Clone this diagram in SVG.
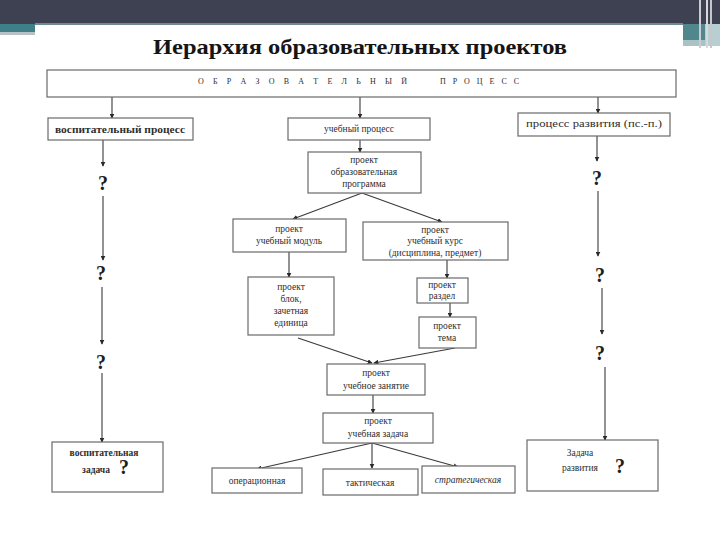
<svg xmlns="http://www.w3.org/2000/svg" width="720" height="540" viewBox="0 0 720 540">
  <style>
    .box { fill: #ffffff; stroke: #6a6a6a; stroke-width: 1.2; }
    .t { font-family: "Liberation Serif", "DejaVu Serif", serif; font-size: 9.5px; fill: #2e2e2e; text-anchor: middle; }
    .s { font-family: "Liberation Serif", "DejaVu Serif", serif; font-size: 8px; fill: #2e2e2e; text-anchor: start; }
    .q { font-family: "Liberation Serif", "DejaVu Serif", serif; font-size: 20px; font-weight: bold; fill: #1e1e1e; text-anchor: middle; }
    .ln { stroke: #3a3a3a; stroke-width: 1.1; fill: none; marker-end: url(#ah); }
  </style>
  <defs>
    <marker id="ah" viewBox="0 0 8 8" refX="7" refY="4" markerWidth="5" markerHeight="5" orient="auto" markerUnits="userSpaceOnUse">
      <path d="M0,0 L8,4 L0,8 Z" fill="#2a2a2a"/>
    </marker>
  </defs>

  <!-- slide frame -->
  <rect x="0" y="0" width="720" height="540" fill="#ffffff"/>
  <rect x="0" y="0" width="720" height="24" fill="#3e4152"/>
  <rect x="0" y="24" width="35" height="8" fill="#3f7f87"/>
  <rect x="0" y="32" width="35" height="3" fill="#b9c2c6"/>
  <rect x="35" y="23" width="648" height="2" fill="#6f8a92"/>
  <rect x="683" y="24" width="22" height="16" fill="#4f878d"/>
  <rect x="683" y="40" width="22" height="6" fill="#a9c2c4"/>
  <rect x="705" y="24" width="15" height="22" fill="#b7cfd1"/>
  <rect x="699" y="0" width="2" height="48" fill="#c9ccd2"/>
  <rect x="706" y="0" width="2" height="48" fill="#d6d8dc"/>
  <rect x="710" y="0" width="2" height="48" fill="#c4c7cc"/>

  <!-- title -->
  <text x="360" y="54" font-family="'Liberation Serif', 'DejaVu Serif', serif" font-size="21" font-weight="bold" fill="#151515" text-anchor="middle" textLength="414" lengthAdjust="spacingAndGlyphs">Иерархия образовательных проектов</text>

  <!-- connectors -->
  <g id="connectors">
    <line class="ln" x1="112" y1="97" x2="112" y2="118"/>
    <line class="ln" x1="360" y1="97" x2="360" y2="118"/>
    <line class="ln" x1="598" y1="97" x2="598" y2="113"/>

    <line class="ln" x1="360" y1="140" x2="360" y2="152"/>
    <line class="ln" x1="362" y1="193" x2="293" y2="219"/>
    <line class="ln" x1="362" y1="193" x2="442" y2="222"/>
    <line class="ln" x1="289" y1="252" x2="289" y2="277"/>
    <line class="ln" x1="447" y1="260" x2="447" y2="278"/>
    <line class="ln" x1="450" y1="303" x2="450" y2="317"/>
    <line class="ln" x1="298" y1="338" x2="372" y2="363"/>
    <line class="ln" x1="455" y1="348" x2="374" y2="363"/>
    <line class="ln" x1="373" y1="395" x2="373" y2="413"/>
    <line class="ln" x1="372" y1="443" x2="257" y2="469"/>
    <line class="ln" x1="372" y1="443" x2="372" y2="468"/>
    <line class="ln" x1="372" y1="443" x2="458" y2="467"/>

    <!-- left column -->
    <line class="ln" x1="103" y1="140" x2="103" y2="166"/>
    <line class="ln" x1="103" y1="196" x2="103" y2="260"/>
    <line class="ln" x1="102" y1="287" x2="102" y2="344"/>
    <line class="ln" x1="102" y1="373" x2="102" y2="442"/>

    <!-- right column -->
    <line class="ln" x1="597" y1="136" x2="597" y2="161"/>
    <line class="ln" x1="598" y1="191" x2="598" y2="256"/>
    <line class="ln" x1="602" y1="288" x2="602" y2="334"/>
    <line class="ln" x1="605" y1="367" x2="605" y2="440"/>
  </g>

  <!-- question marks -->
  <g id="questions">
    <text class="q" x="103" y="190">?</text>
    <text class="q" x="101" y="280">?</text>
    <text class="q" x="101" y="369">?</text>
    <text class="q" x="597" y="185">?</text>
    <text class="q" x="600" y="282">?</text>
    <text class="q" x="600" y="360">?</text>
  </g>

  <!-- nodes -->
  <g id="n-obr-process">
    <rect class="box" x="47" y="70" width="629" height="27"/>
    <text class="s" x="198" y="84" textLength="209" lengthAdjust="spacing">О Б Р А З О В А Т Е Л Ь Н Ы Й</text>
    <text class="s" x="440" y="84" textLength="79" lengthAdjust="spacing">П Р О Ц Е С С</text>
  </g>
  <g id="n-vosp-process">
    <rect class="box" x="48" y="118" width="145" height="22"/>
    <text class="t" x="120" y="133" font-size="10" font-weight="bold" textLength="130" lengthAdjust="spacingAndGlyphs">воспитательный процесс</text>
  </g>
  <g id="n-ucheb-process">
    <rect class="box" x="288" y="118" width="142" height="22"/>
    <text class="t" x="359" y="132">учебный процесс</text>
  </g>
  <g id="n-razv-process">
    <rect class="box" x="518" y="113" width="152" height="23"/>
    <text class="t" x="594" y="127" font-size="10" textLength="136" lengthAdjust="spacingAndGlyphs">процесс развития (пс.-п.)</text>
  </g>
  <g id="n-obr-programma">
    <rect class="box" x="308" y="152" width="113" height="41"/>
    <text class="t" x="364" y="163" font-size="8.5">проект</text>
    <text class="t" x="364" y="175">образовательная</text>
    <text class="t" x="364" y="187">программа</text>
  </g>
  <g id="n-modul">
    <rect class="box" x="233" y="219" width="113" height="33"/>
    <text class="t" x="289" y="232" font-size="8.5">проект</text>
    <text class="t" x="289" y="244">учебный модуль</text>
  </g>
  <g id="n-kurs">
    <rect class="box" x="363" y="222" width="145" height="38"/>
    <text class="t" x="435" y="233" font-size="8.5">проект</text>
    <text class="t" x="435" y="244">учебный курс</text>
    <text class="t" x="435" y="256">(дисциплина, предмет)</text>
  </g>
  <g id="n-blok">
    <rect class="box" x="248" y="277" width="86" height="58"/>
    <text class="t" x="291" y="290" font-size="8.5">проект</text>
    <text class="t" x="291" y="302">блок,</text>
    <text class="t" x="291" y="314">зачетная</text>
    <text class="t" x="291" y="326">единица</text>
  </g>
  <g id="n-razdel">
    <rect class="box" x="417" y="278" width="51" height="25"/>
    <text class="t" x="442" y="288" font-size="8">проект</text>
    <text class="t" x="442" y="299">раздел</text>
  </g>
  <g id="n-tema">
    <rect class="box" x="419" y="317" width="57" height="31"/>
    <text class="t" x="447" y="329" font-size="8">проект</text>
    <text class="t" x="447" y="341">тема</text>
  </g>
  <g id="n-zanyatie">
    <rect class="box" x="327" y="364" width="98" height="31"/>
    <text class="t" x="376" y="376" font-size="8.5">проект</text>
    <text class="t" x="376" y="389">учебное занятие</text>
  </g>
  <g id="n-zadacha">
    <rect class="box" x="323" y="413" width="110" height="30"/>
    <text class="t" x="378" y="424" font-size="8.5">проект</text>
    <text class="t" x="378" y="437">учебная задача</text>
  </g>
  <g id="n-oper">
    <rect class="box" x="212" y="468" width="90" height="25"/>
    <text class="t" x="257" y="484">операционная</text>
  </g>
  <g id="n-takt">
    <rect class="box" x="323" y="469" width="95" height="26"/>
    <text class="t" x="370" y="486">тактическая</text>
  </g>
  <g id="n-strat">
    <rect class="box" x="422" y="466" width="93" height="27"/>
    <text class="t" x="468" y="483" font-style="italic">стратегическая</text>
  </g>
  <g id="n-vosp-zadacha">
    <rect class="box" x="52" y="442" width="111" height="50"/>
    <text class="t" x="104" y="456" font-size="9" font-weight="bold">воспитательная</text>
    <text class="t" x="96" y="473" font-size="9" font-weight="bold">задача</text>
    <text class="q" x="124" y="474" font-size="15">?</text>
  </g>
  <g id="n-razv-zadacha">
    <rect class="box" x="527" y="440" width="131" height="51"/>
    <text class="t" x="580" y="456" font-size="10">Задача</text>
    <text class="t" x="580" y="471" font-size="10">развития</text>
    <text class="q" x="620" y="473" font-size="16">?</text>
  </g>
</svg>
